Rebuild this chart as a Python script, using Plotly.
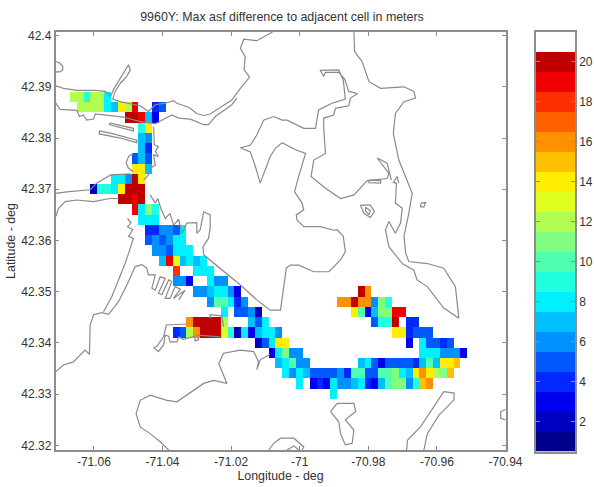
import numpy as np
import plotly.graph_objects as go

# ---- chart text ----
title_text = "9960Y: Max asf difference to adjacent cell in meters"
x_title = "Longitude - deg"
y_title = "Latitude - deg"
x_tickvals = [-71.06, -71.04, -71.02, -71.0, -70.98, -70.96, -70.94]
x_ticktext = ["-71.06", "-71.04", "-71.02", "-71", "-70.98", "-70.96", "-70.94"]
y_tickvals = [42.32, 42.33, 42.34, 42.35, 42.36, 42.37, 42.38, 42.39, 42.4]
y_ticktext = ["42.32", "42.33", "42.34", "42.35", "42.36", "42.37", "42.38", "42.39", "42.4"]
bar_ticks = [2, 4, 6, 8, 10, 12, 14, 16, 18, 20]

# ---- colour levels, 1 .. 21 (21 = white, above scale) ----
level_values = list(range(1, 22))
level_colors = ["#00008c", "#0000c0", "#0000f0", "#0028ff", "#0058ff", "#0090ff", "#00c0ff",
                "#00f0ff", "#20ffe0", "#50ffb0", "#80ff80", "#b0ff50", "#e0ff20", "#ffee00",
                "#ffc000", "#ff9000", "#ff6000", "#ff3000", "#f00000", "#c00000", "#ffffff"]

# ---- grid runs: latitude, longitude of first cell, max asf difference (m) ----
run_lat = [42.388, 42.386, 42.386, 42.384, 42.382, 42.38, 42.378, 42.376, 42.374, 42.372,
           42.37, 42.368, 42.366, 42.364, 42.362, 42.36, 42.358, 42.356, 42.354, 42.352,
           42.35, 42.35, 42.348, 42.348, 42.346, 42.346, 42.344, 42.344, 42.344, 42.344,
           42.342, 42.342, 42.34, 42.34, 42.338, 42.338, 42.336, 42.336, 42.334, 42.332,
           42.332, 42.33]
run_lon = [-71.066, -71.064, -71.042, -71.05, -71.046, -71.046, -71.046, -71.048, -71.048, -71.054,
           -71.06, -71.052, -71.048, -71.046, -71.044, -71.044, -71.042, -71.04, -71.036, -71.036,
           -71.03, -70.982, -71.026, -70.988, -71.022, -70.984, -71.032, -71.014, -70.978, -70.968,
           -71.036, -70.972, -71.012, -70.968, -71.008, -70.964, -71.006, -70.982, -71.004, -71.0,
           -70.996, -70.99]
run_values = [
    [12, 12, 9, 12, 12, 8],
    [12, 12, 12, 12, 8, 7, 14, 12, 19],
    [4, 5],
    [20, 20, 19, 7, 3],
    [9, 14],
    [7, 6],
    [7, 4],
    [5, 7, 5],
    [14, 14, 7],
    [8, 8, 6, 20, 14],
    [2, 9, 9, 8, 14, 20, 20, 20],
    [20, 20, 19, 20],
    [19, 8, 11, 9],
    [8, 8, 8],
    [4, 4, 6, 6, 5, 8],
    [5, 6, 5, 6, 8, 8],
    [6, 6, 5, 8, 8, 8],
    [7, 19, 13, 7, 8, 7, 8],
    [18, None, None, 8, 8, 8],
    [6, 6, 3, None, None, 8, 6, 6],
    [6, 6, 7, 8, 8, 6, 3],
    [20, 16],
    [6, 10, 10, 8, 4, 6],
    [16, 16, 20, 16, 16, 6, 11, 9],
    [8, None, 5, 5, 6, 2],
    [14, 10, 3, 7, 11, 11, 19, 19],
    [16, 20, 20, 20, 20, 12],
    [7, 5, 8],
    [5, 9, 9, 20],
    [4, 4],
    [4, 5, 12, 16, 20, 20, 20, 13, 9, 2, 8, 3, 7, 8, 8, 6],
    [14, 14, 4, 5, 5, 5],
    [2, 5, 8, 14, 14],
    [3, None, 8, 5, 5, 4, 5],
    [3, 8, 11, 6, 6],
    [8, 8, 8, 6, 6, 6, 3],
    [7, 8, 10, 6, 6],
    [7, 8, 5, 3, 5, 5, 5, 5, 4, 7, 10, 7, 14, 14, 15],
    [8, 6, 8, 7, 5, 5, 5, 5, 6, 4, 10, 10, 5, 5, 10, 10, 11, 8, 7, 14, 16, 14, 12, 11, 15],
    [8],
    [3, 4, 3, 8, 6, 6, 7, 8, 4, 3, 7, 10, 11, 11, 6, 9, 15, 16],
    [8],
]

# ---- coastline (None separates pieces) ----
coast_lon = [
    -71.0712, -71.0699, -71.0691, -71.0691, -71.0699, -71.0712, None,
    -71.0711, -71.0689, -71.0650, -71.0596, -71.0567, -71.0551, -71.0541, -71.0523, -71.0509, -71.0499,
    -71.0494, -71.0506, -71.0523, -71.0538, -71.0545, -71.0523, -71.0494, -71.0465, -71.0441, -71.0421,
    -71.0392, -71.0368, -71.0358, -71.0324, -71.0300, -71.0280, -71.0261, -71.0232, -71.0198, -71.0173,
    -71.0146, -71.0162, -71.0159, -71.0173, -71.0163, -71.0125, -71.0100, -71.0079, None,
    -71.0711, -71.0699, -71.0650, -71.0642, -71.0631, -71.0621, -71.0601, -71.0596, -71.0514, -71.0465,
    -71.0421, -71.0392, -71.0373, -71.0353, -71.0319, -71.0280, -71.0266, -71.0246, -71.0217, -71.0198,
    -71.0183, None,
    -71.0553, -71.0514, -71.0485, -71.0485, -71.0514, -71.0555, -71.0553, None,
    -71.0584, -71.0543, -71.0475, -71.0475, -71.0523, -71.0584, -71.0584, None,
    -71.0426, -71.0424, -71.0412, -71.0421, -71.0412, -71.0426, -71.0421, -71.0436, -71.0441, -71.0455, None,
    -71.0485, -71.0499, -71.0506, -71.0499, -71.0485, None,
    -71.0711, -71.0679, -71.0611, -71.0592, -71.0551, -71.0494, None,
    -71.0711, -71.0703, -71.0684, -71.0650, -71.0601, -71.0553, -71.0528, None,
    -71.0436, -71.0421, -71.0414, -71.0405, -71.0392, -71.0378, -71.0368, -71.0353, -71.0343, -71.0329,
    -71.0300, -71.0300, -71.0290, -71.0280, -71.0261, -71.0261, -71.0266, -71.0282, -71.0280, -71.0232,
    -71.0173, -71.0125, -71.0086, -71.0056, -71.0047, -71.0039, -71.0027, -71.0003, -70.9959, -70.9915,
    -70.9881, -70.9867, -70.9873, -70.9891, -70.9901, -70.9940, -70.9988, -71.0008, -71.0010, -70.9988,
    -70.9993, -71.0015, -71.0003, -70.9983, -71.0012, -71.0051, -71.0071, -71.0086, -71.0115, -71.0129,
    -71.0144, -71.0173, -71.0144, -71.0125, -71.0105, -71.0076, -71.0051, -71.0037, -70.9988, -70.9954,
    -70.9945, -70.9906, -70.9867, -70.9873, -70.9886, -70.9940, -70.9930, -70.9925, -70.9886, -70.9869,
    -70.9857, -70.9831, -70.9852, -70.9857, -70.9896, -70.9901, -70.9930, -70.9930, -70.9925, -70.9959,
    -70.9967, -70.9925, -70.9881, -70.9842, -70.9803, -70.9745, -70.9740, -70.9774, -70.9745, -70.9733, None,
    -70.9842, -70.9840, -70.9818, -70.9798, -70.9764, -70.9696, -70.9667, -70.9662, -70.9696, -70.9721,
    -70.9727, -70.9711, -70.9672, -70.9682, -70.9696, -70.9691, -70.9682, -70.9628, -70.9580, -70.9546,
    -70.9536, -70.9580, -70.9628, -70.9658, -70.9667, -70.9701, -70.9740, -70.9750, -70.9740, -70.9721,
    -70.9706, -70.9701, -70.9721, -70.9718, -70.9727, -70.9716, -70.9711, None,
    -70.9798, -70.9764, -70.9764, -70.9798, -70.9798, None,
    -70.9823, -70.9794, -70.9782, -70.9794, -70.9813, -70.9823, None,
    -70.9808, -70.9794, -70.9798, -70.9808, -70.9808, None,
    -70.9646, -70.9633, -70.9638, -70.9648, -70.9646, None,
    -70.9910, -70.9891, -70.9842, -70.9837, -70.9867, -70.9842, -70.9847, -70.9867, -70.9881, -70.9886, -70.9910, None,
    -70.9688, -70.9686, -70.9648, -70.9609, -70.9580, -70.9550, -70.9550, -70.9594, -70.9628, -70.9638, None,
    -71.0090, -71.0076, -71.0056, -71.0017, -70.9988, -70.9993, None,
    -71.0037, -71.0017, -71.0003, None,
    -70.9385, -70.9414, -70.9414, -70.9385, None,
    -71.0711, -71.0689, -71.0660, -71.0626, -71.0613, -71.0611, -71.0611, -71.0601, -71.0577, -71.0557,
    -71.0528, -71.0499, -71.0480, -71.0460, -71.0446, -71.0441, -71.0421, -71.0431, -71.0421, -71.0407,
    -71.0392, -71.0412, -71.0402, -71.0382, -71.0373, -71.0392, -71.0378, -71.0363, -71.0348, -71.0368,
    -71.0334, -71.0353, None,
    -71.0502, -71.0492, -71.0502, -71.0487, -71.0499, -71.0485, -71.0494, -71.0509, -71.0548, -71.0572, None,
    -71.0232, -71.0298, -71.0295, -71.0305, -71.0305, -71.0339, -71.0353, -71.0358, -71.0378, -71.0382,
    -71.0392, -71.0397, -71.0412, -71.0426, -71.0417, -71.0397, -71.0389, -71.0329, None,
    -71.0261, -71.0261, -71.0227, -71.0222, None,
    -71.0086, -71.0115, -71.0125, -71.0120, -71.0134, -71.0173, -71.0222, -71.0236, -71.0212, -71.0251,
    -71.0280, -71.0358, -71.0387, -71.0436, -71.0465, -71.0477, -71.0465, -71.0436, -71.0407, -71.0382,
]
coast_lat = [
    42.3950, 42.3946, 42.3940, 42.3933, 42.3929, 42.3929, None,
    42.3902, 42.3897, 42.3893, 42.3893, 42.3891, 42.3882, 42.3897, 42.3917, 42.3930, 42.3943,
    42.3932, 42.3919, 42.3907, 42.3891, 42.3876, 42.3871, 42.3867, 42.3863, 42.3852, 42.3865,
    42.3868, 42.3873, 42.3868, 42.3860, 42.3848, 42.3844, 42.3847, 42.3860, 42.3874, 42.3897,
    42.3919, 42.3933, 42.3959, 42.3975, 42.3993, 42.3990, 42.3999, 42.4007, None,
    42.3868, 42.3856, 42.3854, 42.3842, 42.3845, 42.3835, 42.3837, 42.3847, 42.3841, 42.3832,
    42.3828, 42.3839, 42.3845, 42.3839, 42.3837, 42.3826, 42.3826, 42.3842, 42.3855, 42.3865,
    42.3878, None,
    42.3829, 42.3824, 42.3819, 42.3814, 42.3819, 42.3826, 42.3829, None,
    42.3814, 42.3808, 42.3796, 42.3791, 42.3800, 42.3808, 42.3814, None,
    42.3822, 42.3787, 42.3783, 42.3774, 42.3764, 42.3767, 42.3747, 42.3741, 42.3728, 42.3718, None,
    42.3770, 42.3764, 42.3751, 42.3741, 42.3734, None,
    42.3692, 42.3695, 42.3699, 42.3712, 42.3728, 42.3730, None,
    42.3647, 42.3663, 42.3676, 42.3679, 42.3676, 42.3682, 42.3682, None,
    42.3689, 42.3673, 42.3682, 42.3663, 42.3643, 42.3653, 42.3630, 42.3641, 42.3614, 42.3634,
    42.3635, 42.3614, 42.3621, 42.3656, 42.3650, 42.3624, 42.3604, 42.3588, 42.3572, 42.3546,
    42.3513, 42.3484, 42.3464, 42.3464, 42.3510, 42.3546, 42.3552, 42.3552, 42.3539, 42.3539,
    42.3562, 42.3578, 42.3608, 42.3621, 42.3620, 42.3627, 42.3627, 42.3640, 42.3650, 42.3660,
    42.3673, 42.3695, 42.3725, 42.3770, 42.3777, 42.3791, 42.3780, 42.3764, 42.3712, 42.3744,
    42.3773, 42.3781, 42.3786, 42.3806, 42.3835, 42.3842, 42.3835, 42.3835, 42.3819, 42.3819,
    42.3855, 42.3868, 42.3876, 42.3913, 42.3933, 42.3932, 42.3920, 42.3928, 42.3928, 42.3915,
    42.3891, 42.3887, 42.3878, 42.3863, 42.3858, 42.3845, 42.3839, 42.3819, 42.3770, 42.3757,
    42.3725, 42.3702, 42.3682, 42.3689, 42.3717, 42.3721, 42.3731, 42.3761, 42.3751, 42.3718, None,
    42.4007, 42.3969, 42.3949, 42.3910, 42.3897, 42.3900, 42.3891, 42.3878, 42.3871, 42.3848,
    42.3809, 42.3757, 42.3692, 42.3653, 42.3608, 42.3575, 42.3559, 42.3555, 42.3546, 42.3510,
    42.3448, 42.3468, 42.3510, 42.3523, 42.3542, 42.3555, 42.3588, 42.3621, 42.3637, 42.3614,
    42.3634, 42.3663, 42.3673, 42.3712, 42.3713, 42.3725, 42.3712, None,
    42.3718, 42.3717, 42.3712, 42.3713, 42.3718, None,
    42.3669, 42.3669, 42.3656, 42.3645, 42.3653, 42.3669, None,
    42.3665, 42.3658, 42.3650, 42.3658, 42.3665, None,
    42.3673, 42.3674, 42.3665, 42.3666, 42.3673, None,
    42.3266, 42.3282, 42.3282, 42.3266, 42.3250, 42.3230, 42.3204, 42.3201, 42.3223, 42.3246, 42.3266, None,
    42.3191, 42.3210, 42.3236, 42.3275, 42.3305, 42.3302, 42.3289, 42.3259, 42.3223, 42.3191, None,
    42.3191, 42.3204, 42.3214, 42.3214, 42.3197, 42.3191, None,
    42.3191, 42.3199, 42.3191, None,
    42.3275, 42.3266, 42.3253, 42.3246, None,
    42.3344, 42.3357, 42.3363, 42.3386, 42.3378, 42.3406, 42.3435, 42.3455, 42.3459, 42.3456,
    42.3481, 42.3520, 42.3549, 42.3553, 42.3546, 42.3533, 42.3533, 42.3507, 42.3503, 42.3529,
    42.3526, 42.3497, 42.3494, 42.3523, 42.3520, 42.3487, 42.3487, 42.3510, 42.3505, 42.3487,
    42.3503, 42.3484, None,
    42.3643, 42.3634, 42.3627, 42.3621, 42.3608, 42.3604, 42.3585, 42.3555, 42.3490, 42.3461, None,
    42.3412, 42.3415, 42.3406, 42.3404, 42.3413, 42.3407, 42.3412, 42.3402, 42.3402, 42.3413,
    42.3415, 42.3396, 42.3383, 42.3391, 42.3393, 42.3412, 42.3435, 42.3437, None,
    42.3448, 42.3455, 42.3453, 42.3432, None,
    42.3378, 42.3367, 42.3348, 42.3363, 42.3383, 42.3386, 42.3380, 42.3360, 42.3321, 42.3327,
    42.3321, 42.3285, 42.3288, 42.3298, 42.3288, 42.3262, 42.3236, 42.3223, 42.3207, 42.3191,
]

# ---- build grid ----
grid_lon = np.round(np.arange(-71.07, -70.9495, 0.002), 3)
grid_lat = np.round(np.arange(42.33, 42.3885, 0.002), 3)
grid_z = np.full((len(grid_lat), len(grid_lon)), np.nan)
for lat, lon0, vals in zip(run_lat, run_lon, run_values):
    r = int(round((lat - grid_lat[0]) / 0.002))
    c = int(round((lon0 - grid_lon[0]) / 0.002))
    for k, v in enumerate(vals):
        if v is not None:
            grid_z[r, c + k] = v

n = len(level_colors)
scale = []
for i, col in enumerate(level_colors):
    scale.append([i / n, col])
    scale.append([(i + 1) / n, col])

W, H = 594, 487
GREY = "#8c8c8c"
TXT = "#333333"
FONT = "Liberation Sans, Arial, sans-serif"

fig = go.Figure()
fig.add_trace(go.Heatmap(x=grid_lon, y=grid_lat, z=grid_z, zmin=0.5, zmax=21.5, colorscale=scale,
                         showscale=False, hoverongaps=False, xaxis="x", yaxis="y"))
fig.add_trace(go.Scatter(x=coast_lon, y=coast_lat, mode="lines", connectgaps=False,
                         line=dict(color="#8a8a8a", width=1.2), showlegend=False, xaxis="x", yaxis="y"))
fig.add_trace(go.Heatmap(x=[0], y=level_values, z=[[v] for v in level_values], zmin=0.5, zmax=21.5,
                         colorscale=scale, showscale=False, xaxis="x2", yaxis="y2"))

axis_common = dict(showgrid=False, zeroline=False, showline=True, linecolor=GREY, linewidth=1.5, automargin=False,
                   mirror="allticks", ticks="inside", ticklen=4, tickcolor=GREY, tickwidth=1,
                   tickfont=dict(family=FONT, size=12, color=TXT))
fig.update_layout(
    template="none",
    width=W, height=H, autosize=False, margin=dict(l=0, r=0, t=0, b=0),
    paper_bgcolor="white", plot_bgcolor="white", showlegend=False,
    font=dict(family=FONT, size=12, color=TXT),
    title=dict(text=title_text, x=282 / W, xanchor="center", y=1 - 17 / H, yanchor="middle",
               font=dict(family=FONT, size=12.4, color=TXT)),
    xaxis=dict(domain=[55.5 / W, 505.5 / W], range=[-71.0712, -70.94], tickmode="array",
               tickvals=x_tickvals, ticktext=x_ticktext, anchor="y",
               title=dict(text=x_title, standoff=1, font=dict(family=FONT, size=12.4, color=TXT)), **axis_common),
    yaxis=dict(domain=[(H - 450) / H, (H - 32) / H], range=[42.3191, 42.4007], tickmode="array",
               tickvals=y_tickvals, ticktext=y_ticktext, anchor="x",
               title=dict(text=y_title, standoff=3, font=dict(family=FONT, size=12.4, color=TXT)), **axis_common),
    xaxis2=dict(domain=[536 / W, 575 / W], range=[-0.5, 0.5], showticklabels=False, anchor="y2", automargin=False,
                showgrid=False, zeroline=False, showline=True, linecolor=GREY, linewidth=1.5, mirror=True, ticks=""),
    yaxis2=dict(domain=[(H - 451.5) / H, (H - 31.5) / H], range=[0.5, 21.5], tickmode="array", tickvals=bar_ticks,
                side="right", anchor="x2", **axis_common),
)
fig.write_html("out.html", post_script="document.body.style.margin='0';", config={"displayModeBar": False})
